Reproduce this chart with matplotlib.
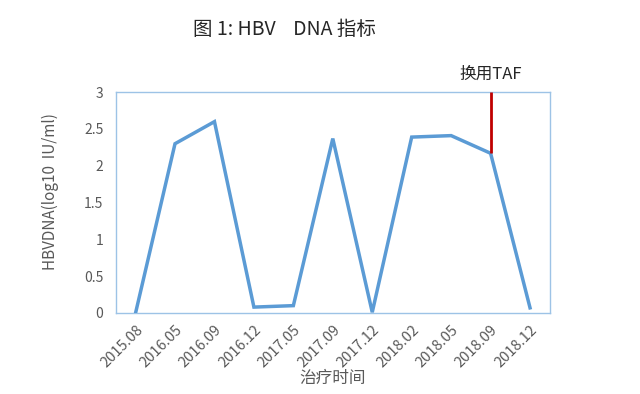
import matplotlib
matplotlib.use('Agg')
import matplotlib.pyplot as plt

plt.rcParams['font.family'] = ['Noto Sans CJK SC', 'DejaVu Sans']

'''HBV DNA data'''
dates = ['2015.08', '2016.05', '2016.09', '2016.12', '2017.05', '2017.09',
         '2017.12', '2018.02', '2018.05', '2018.09', '2018.12']
hbv = [0, 2.3, 2.6, 0.08, 0.1, 2.37, 0.01, 2.39, 2.41, 2.17, 0.07]
taf_idx = 9
taf_label = '换用TAF'

grey = '#595959'

fig = plt.figure(figsize=(6.4, 3.94), dpi=100)
ax = fig.add_axes([0.181, 0.2056, 0.678, 0.5604])

x = list(range(len(dates)))
ax.plot(x, hbv, color='#5B9BD5', lw=2.5, solid_joinstyle='miter', zorder=3)
ax.vlines(taf_idx, hbv[taf_idx], 3, color='#C00000', lw=2.0, zorder=4)
ax.text(taf_idx, 3.13, taf_label, ha='center', va='bottom', fontsize=12, color='#262626')

ax.set_xlim(-0.5, len(dates) - 0.5)
ax.set_ylim(0, 3)
ax.set_xticks(x)
ax.set_xticklabels(dates, rotation=45, ha='right', rotation_mode='anchor')
ax.set_yticks([0, 0.5, 1, 1.5, 2, 2.5, 3])
ax.set_yticklabels(['0', '0.5', '1', '1.5', '2', '2.5', '3'])
ax.tick_params(axis='y', length=0, labelsize=10, colors=grey, pad=9)
ax.tick_params(axis='x', length=0, labelsize=10.5, colors=grey, pad=7)
for s in ax.spines.values():
    s.set_color('#9DC3E6')
    s.set_linewidth(1.0)

ax.set_ylabel('HBVDNA(log10  IU/ml)', fontsize=11, color=grey)
ax.yaxis.set_label_coords(-0.13, 0.55)
ax.set_xlabel('治疗时间', fontsize=12, color=grey, labelpad=0)

fig.text(0.445, 0.925, '图 1: HBV    DNA 指标', ha='center', va='center', fontsize=14, color='#262626')

fig.savefig('out.png', dpi=100)
